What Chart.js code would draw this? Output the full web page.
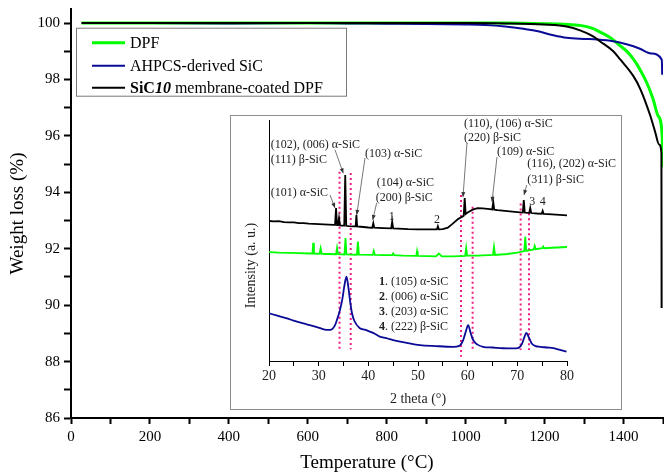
<!DOCTYPE html>
<html><head><meta charset="utf-8">
<script src="https://cdn.jsdelivr.net/npm/chart.js@4"></script>
<style>
html,body{margin:0;padding:0;background:#fff;}
#wrap{position:relative;width:664px;height:473px;overflow:hidden;}
#main{position:absolute;left:0;top:0;}
#insetBox{position:absolute;left:230px;top:115px;width:392px;height:295px;}
</style></head><body>
<div id="wrap">
<canvas id="main" width="664" height="473"></canvas>
<div id="insetBox"><canvas id="inset" width="392" height="295"></canvas></div>
</div>
<script>
// ---------- TGA data (main chart) ----------
const tgaLabels = ['DPF', 'AHPCS-derived SiC', 'SiC10 membrane-coated DPF'];
const dpfT   = [27, 200, 400, 600, 800, 1000, 1100, 1200, 1250, 1290, 1320, 1341, 1370, 1391, 1410, 1425, 1442, 1460, 1475, 1488, 1498, 1499];
const dpfW   = [100.0, 100.0, 100.0, 100.0, 100.0, 100.0, 100.0, 99.98, 99.96, 99.92, 99.82, 99.68, 99.45, 99.2, 98.98, 98.72, 98.35, 97.85, 97.3, 96.7, 96.0, 94.9];
const ahpcsT = [27, 200, 400, 600, 700, 800, 900, 1000, 1050, 1100, 1146, 1180, 1222, 1256, 1300, 1333, 1374, 1410, 1440, 1470, 1497, 1498];
const ahpcsW = [100.0, 100.0, 99.99, 100.0, 99.99, 99.98, 99.97, 99.95, 99.93, 99.88, 99.8, 99.72, 99.57, 99.48, 99.44, 99.42, 99.36, 99.24, 99.1, 98.92, 98.7, 98.17];
const sic10T = [27, 200, 400, 600, 800, 1000, 1100, 1200, 1256, 1290, 1324, 1341, 1374, 1391, 1425, 1442, 1467, 1480, 1490, 1496, 1496.5];
const sic10W = [100.0, 100.0, 100.0, 100.0, 100.0, 100.0, 99.99, 99.95, 99.88, 99.74, 99.52, 99.35, 99.0, 98.72, 98.12, 97.68, 96.75, 96.15, 95.7, 95.4, 89.9];
const xTickLabels = [0, 200, 400, 600, 800, 1000, 1200, 1400];
const yTickLabels = [86, 88, 90, 92, 94, 96, 98, 100];

// ---------- XRD data (inset) ----------
const sic10Theta = [20,21,22,23,24,25,26,27,28,29,30,31,32,33,33.3,33.5,33.7,33.9,34.1,34.3,34.8,35.15,35.35,35.55,36,37,37.45,37.6,37.75,38.5,40,40.8,41.0,41.2,42,43,44.6,44.8,45.0,46,48,50,52,53.8,54.0,54.2,55,56,57,58,59,59.2,59.4,59.6,60,61,62,63,64,64.95,65.15,65.35,66,68,70,71.1,71.3,71.5,72,72.4,72.6,72.8,74,74.9,75.1,75.3,77,80];
const sic10I = [58.1,57.9,58.0,57.6,57.5,57.5,57.2,57.2,57.0,56.9,56.8,56.7,56.6,56.5,56.5,63.5,56.4,56.4,59.3,56.3,56.2,56.2,77.2,56.1,56.0,55.9,55.9,60.6,55.8,55.7,55.4,55.3,57.2,55.3,55.2,55.1,55.0,57.8,55.0,54.9,54.7,54.6,54.6,54.6,55.9,54.6,54.7,55.3,57.0,58.8,60.0,60.3,67.6,61.0,61.6,62.8,63.4,63.3,63.1,62.9,66.0,62.8,62.6,62.2,61.8,61.6,66.8,61.6,61.5,61.5,63.5,61.4,61.2,61.1,62.3,61.0,60.8,60.4];
const dpfTheta = [20,22,24,26,28,28.75,28.9,29.05,30.2,30.4,30.6,32,33.5,33.7,33.9,35.2,35.4,35.6,37.7,37.9,38.1,40.9,41.1,41.3,43,44.8,45.0,45.2,47,49.65,49.8,49.95,52,53.6,54.2,54.8,57,59.5,59.7,59.9,62,65.1,65.3,65.5,68,70,71.4,71.6,71.8,73.3,73.5,73.7,75,75.2,75.4,77,80];
const dpfI = [45.2,45.0,44.9,44.8,44.6,44.6,49.0,44.6,44.5,46.7,44.5,44.4,44.3,46.9,44.3,44.2,51.0,44.2,44.1,49.6,44.1,44.0,45.6,44.0,43.9,43.9,44.6,43.9,43.7,43.6,45.5,43.6,43.5,43.4,44.6,43.4,43.4,43.6,46.9,43.7,43.7,44.0,47.3,44.0,44.4,45.0,45.6,51.5,45.7,46.3,47.8,46.4,46.8,47.5,46.8,47.0,47.3];
const ahpcsTheta = [20,21.5,23.6,25.3,26.9,28.6,30.3,31.6,32.3,33.3,33.8,34.3,34.8,35.2,35.6,35.9,36.3,36.7,37.2,38.3,39.3,40.3,41.3,42.3,43.6,45,47.5,50.4,53.5,57.1,58.3,59.1,59.6,60.1,60.6,61.1,62,63.1,65,67.1,69,70.1,70.9,71.4,71.8,72.3,72.9,73.7,74.6,76,77.3,78.6,79.9];
const ahpcsI = [19.8,18.9,17.7,16.5,15.6,14.7,13.6,12.9,12.9,14.9,17.8,21.2,26.1,31.5,35.0,31.8,25.3,19.9,16.6,13.6,13.0,12.2,11.3,10.1,9.5,8.7,7.6,6.6,6.2,5.9,6.3,8.7,12.0,14.9,11.6,8.7,6.8,5.9,5.6,5.3,5.2,5.3,7.0,9.8,11.7,9.9,7.3,6.2,5.9,5.6,5.3,4.6,3.9];
const xrdTickLabels = [20, 30, 40, 50, 60, 70, 80];
// dotted guide lines
const guideTheta  = [34.2, 36.45, 58.66, 61.0, 70.67, 72.35];
const guideTop    = [78.5, 78.0, 68.9, 64.0, 65.4, 61.3];
const guideBottom = [4.9, 4.9, 1.8, 3.9, 4.6, 4.6];
// peak annotations
const peakLabelText  = ['(102), (006) α-SiC','(111) β-SiC','(101) α-SiC','(103) α-SiC','(104) α-SiC','(200) β-SiC','(110), (106) α-SiC','(220) β-SiC','(109) α-SiC','(116), (202) α-SiC','(311) β-SiC'];
const peakLabelTheta = [20.34, 20.34, 20.34, 39.33, 41.68, 41.48, 59.26, 59.26, 65.9, 72.0, 72.0];
const peakLabelI     = [89.6, 83.4, 69.7, 85.9, 74.0, 67.6, 98.3, 92.5, 86.8, 81.7, 75.1];
const peakNumText  = ['1', '2', '3', '4'];
const peakNumTheta = [44.7, 53.82, 73.0, 75.1];
const peakNumI     = [59.9, 58.5, 66.1, 66.1];
const arrowFromTheta = [33.29, 32.28, 39.33, 41.68, 59.86, 65.90, 71.88];
const arrowFromI     = [87.6, 68.9, 84.2, 65.6, 90.5, 84.6, 73.0];
const arrowToTheta   = [34.96, 33.29, 37.66, 40.88, 59.06, 64.90, 71.34];
const arrowToI       = [77.9, 63.5, 60.6, 58.5, 68.0, 66.0, 68.9];
const keyNum  = ['1', '2', '3', '4'];
const keyText = ['. (105) α-SiC', '. (006) α-SiC', '. (203) α-SiC', '. (222) β-SiC'];
const keyTheta = 42.15;
const keyI = [32.8, 26.6, 20.3, 14.1];

const SERIF = '"Liberation Serif", "Times New Roman", Times, serif';
Chart.defaults.font.family = SERIF;
Chart.defaults.color = '#000';

const pts = (xs, ys) => xs.map((v, i) => ({x: v, y: ys[i]}));

// ---------- main chart ----------
const mainBg = {
  id: 'mainBg',
  beforeDraw(chart) { const c = chart.ctx; c.save(); c.fillStyle = '#fff'; c.fillRect(0, 0, chart.width, chart.height); c.restore(); }
};
const mainLegend = {
  id: 'mainLegend',
  afterDraw(chart) {
    const ctx = chart.ctx, ca = chart.chartArea;
    const ds = chart.data.datasets;
    const bx = ca.left + 5.5, by = ca.top + 19.2, bw = 270, bh = 68;
    ctx.save();
    ctx.fillStyle = '#fff';
    ctx.fillRect(bx, by, bw, bh);
    ctx.strokeStyle = '#7a7a7a'; ctx.lineWidth = 1;
    ctx.strokeRect(bx, by, bw, bh);
    const rows = [14.5, 37.5, 59.5];
    const rich = [
      [{t: tgaLabels[0], f: ''}],
      [{t: tgaLabels[1], f: ''}],
      [{t: 'SiC', f: 'bold '}, {t: '10', f: 'italic bold '}, {t: ' membrane-coated DPF', f: ''}]
    ];
    ds.forEach((d, i) => {
      const yy = by + rows[i];
      ctx.strokeStyle = d.borderColor; ctx.lineWidth = d.borderWidth;
      ctx.beginPath(); ctx.moveTo(bx + 15.5, yy); ctx.lineTo(bx + 48.5, yy); ctx.stroke();
      let tx = bx + 53.5;
      ctx.fillStyle = '#000'; ctx.textBaseline = 'middle'; ctx.textAlign = 'left';
      rich[i].forEach(p => {
        ctx.font = p.f + '16px ' + SERIF;
        ctx.fillText(p.t, tx, yy + 1);
        tx += ctx.measureText(p.t).width;
      });
    });
    ctx.restore();
  }
};

new Chart(document.getElementById('main'), {
  type: 'line',
  data: {
    datasets: [
      {label: tgaLabels[0], data: pts(dpfT, dpfW), borderColor: '#00ff00', borderWidth: 3, pointRadius: 0, cubicInterpolationMode: 'monotone', order: 2},
      {label: tgaLabels[1], data: pts(ahpcsT, ahpcsW), borderColor: '#0a0a96', borderWidth: 2, pointRadius: 0, cubicInterpolationMode: 'monotone', order: 1},
      {label: tgaLabels[2], data: pts(sic10T, sic10W), borderColor: '#000000', borderWidth: 2, pointRadius: 0, cubicInterpolationMode: 'monotone', order: 0}
    ]
  },
  options: {
    responsive: false, animation: false,
    layout: {padding: {top: 9, right: 1, left: 0, bottom: 0}},
    plugins: {legend: {display: false}, tooltip: {enabled: false}},
    scales: {
      x: {
        type: 'linear', min: 0, max: 1500,
        afterBuildTicks: s => {
          const t = [];
          for (let v = 0; v <= 1500; v += 100) t.push({value: v});
          s.ticks = t;
        },
        ticks: {autoSkip: false, maxRotation: 0, padding: 4, color: '#000',
          font: {size: 15, family: SERIF},
          callback: v => xTickLabels.includes(Math.round(v)) ? String(Math.round(v)) : ''},
        grid: {drawOnChartArea: false, drawTicks: true, tickLength: 6, tickWidth: 2, tickColor: '#000'},
        border: {display: true, color: '#000', width: 2},
        title: {display: true, text: 'Temperature (°C)', color: '#000', font: {size: 19, family: SERIF, lineHeight: 1}, padding: {top: 0, bottom: 0}},
        afterFit: s => { s.height = 55; s.paddingLeft = 0; s.paddingRight = 0; }
      },
      y: {
        type: 'linear', min: 86, max: 100.5,
        afterBuildTicks: s => {
          const t = [];
          for (let v = yTickLabels[0]; v <= yTickLabels[yTickLabels.length - 1]; v += 1) t.push({value: v});
          s.ticks = t;
        },
        ticks: {autoSkip: false, padding: 4, color: '#000',
          font: {size: 15, family: SERIF},
          callback: v => yTickLabels.includes(Math.round(v)) ? String(Math.round(v)) : ''},
        grid: {drawOnChartArea: false, drawTicks: true, tickLength: 7, tickWidth: 2, tickColor: '#000'},
        border: {display: true, color: '#000', width: 2},
        title: {display: true, text: 'Weight loss (%)', color: '#000', font: {size: 19, family: SERIF, lineHeight: 1}, padding: {top: 9, bottom: 0}},
        afterFit: s => { s.width = 71; s.paddingTop = 0; s.paddingBottom = 0; }
      }
    }
  },
  plugins: [mainBg, mainLegend]
});

// ---------- inset chart ----------
const insetDecor = {
  id: 'insetDecor',
  beforeDraw(chart) { const c = chart.ctx; c.save(); c.fillStyle = '#fff'; c.fillRect(0, 0, chart.width, chart.height); c.restore(); },
  afterDraw(chart) {
    const ctx = chart.ctx, xs = chart.scales.x, ys = chart.scales.y, ca = chart.chartArea;
    ctx.save();
    ctx.strokeStyle = '#8c8c8c'; ctx.lineWidth = 1;
    ctx.strokeRect(0.5, 0.5, chart.width - 1, chart.height - 1);
    // arrows
    ctx.strokeStyle = '#555'; ctx.fillStyle = '#333'; ctx.lineWidth = 0.8;
    for (let i = 0; i < arrowFromTheta.length; i++) {
      const x1 = xs.getPixelForValue(arrowFromTheta[i]), y1 = ys.getPixelForValue(arrowFromI[i]);
      const x2 = xs.getPixelForValue(arrowToTheta[i]), y2 = ys.getPixelForValue(arrowToI[i]);
      ctx.beginPath(); ctx.moveTo(x1, y1); ctx.lineTo(x2, y2); ctx.stroke();
      const a = Math.atan2(y2 - y1, x2 - x1), L = 5, W = 2;
      ctx.beginPath();
      ctx.moveTo(x2, y2);
      ctx.lineTo(x2 - L * Math.cos(a) + W * Math.sin(a), y2 - L * Math.sin(a) - W * Math.cos(a));
      ctx.lineTo(x2 - L * Math.cos(a) - W * Math.sin(a), y2 - L * Math.sin(a) + W * Math.cos(a));
      ctx.closePath(); ctx.fill();
    }
    // labels
    ctx.fillStyle = '#222'; ctx.textBaseline = 'middle';
    ctx.font = '12px ' + SERIF; ctx.textAlign = 'left';
    peakLabelText.forEach((t, i) => ctx.fillText(t, xs.getPixelForValue(peakLabelTheta[i]), ys.getPixelForValue(peakLabelI[i])));
    ctx.textAlign = 'center';
    peakNumText.forEach((t, i) => ctx.fillText(t, xs.getPixelForValue(peakNumTheta[i]), ys.getPixelForValue(peakNumI[i])));
    // key
    ctx.textAlign = 'left';
    keyNum.forEach((n, i) => {
      const kx = xs.getPixelForValue(keyTheta), ky = ys.getPixelForValue(keyI[i]);
      ctx.font = 'bold 12px ' + SERIF; ctx.fillText(n, kx, ky);
      const w = ctx.measureText(n).width;
      ctx.font = '12px ' + SERIF; ctx.fillText(keyText[i], kx + w, ky);
    });
    // y title
    ctx.font = '14px ' + SERIF; ctx.fillStyle = '#222'; ctx.textAlign = 'center';
    ctx.translate(ca.left - 17.5, (ca.top + ca.bottom) / 2 + 25);
    ctx.rotate(-Math.PI / 2);
    ctx.fillText('Intensity (a. u.)', 0, 0);
    ctx.restore();
  }
};

const guideSets = guideTheta.map((t, i) => ({
  label: 'guide' + i,
  data: [{x: t, y: guideTop[i]}, {x: t, y: guideBottom[i]}],
  borderColor: '#ee1c84', borderWidth: 2, borderDash: [2, 3], pointRadius: 0, order: 5
}));

new Chart(document.getElementById('inset'), {
  type: 'line',
  data: {
    datasets: [
      {label: tgaLabels[2], data: pts(sic10Theta, sic10I), borderColor: '#000', borderWidth: 1.8, pointRadius: 0, tension: 0, order: 1},
      {label: tgaLabels[0], data: pts(dpfTheta, dpfI), borderColor: '#00ff00', borderWidth: 1.8, pointRadius: 0, tension: 0, order: 2},
      {label: tgaLabels[1], data: pts(ahpcsTheta, ahpcsI), borderColor: '#0a0a96', borderWidth: 1.8, pointRadius: 0, cubicInterpolationMode: 'monotone', order: 3},
      ...guideSets
    ]
  },
  options: {
    responsive: false, animation: false,
    layout: {padding: {top: 5, right: 55, left: 0, bottom: 0}},
    plugins: {legend: {display: false}, tooltip: {enabled: false}},
    scales: {
      x: {
        type: 'linear', min: 20, max: 80,
        ticks: {stepSize: 5, autoSkip: false, maxRotation: 0, padding: 2, color: '#222',
          font: {size: 14, family: SERIF},
          callback: v => xrdTickLabels.includes(v) ? String(v) : ''},
        grid: {drawOnChartArea: false, drawTicks: true, tickLength: 5, tickWidth: 1, tickColor: '#000'},
        border: {display: true, color: '#000', width: 1},
        title: {display: true, text: '2 theta (°)', color: '#222', font: {size: 14, family: SERIF, lineHeight: 1}, padding: {top: 0, bottom: 4}},
        afterFit: s => { s.height = 49; s.paddingLeft = 0; s.paddingRight = 0; }
      },
      y: {
        type: 'linear', min: 0, max: 100,
        ticks: {display: false},
        grid: {drawOnChartArea: false, drawTicks: false},
        border: {display: true, color: '#000', width: 1},
        afterFit: s => { s.width = 39; s.paddingTop = 0; s.paddingBottom = 0; }
      }
    }
  },
  plugins: [insetDecor]
});
</script>
</body></html>
